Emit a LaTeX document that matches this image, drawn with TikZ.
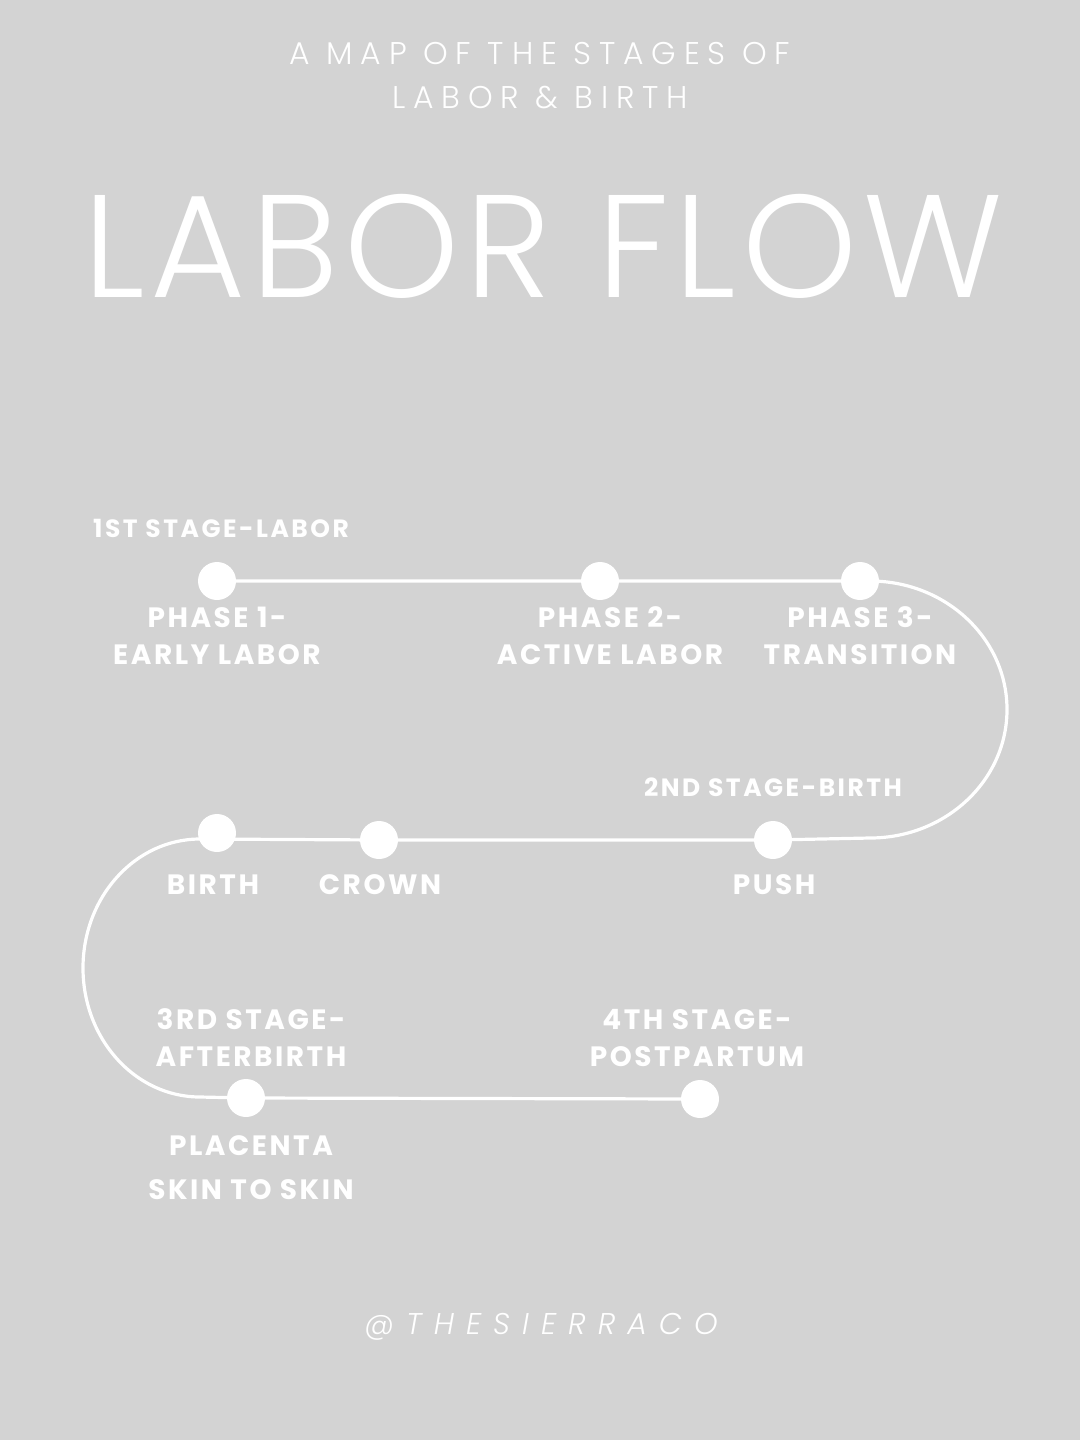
\documentclass[tikz,border=0pt]{standalone}
\usepackage{fontspec}
\usepackage{xcolor}
\usepackage{tikz}
\usetikzlibrary{positioning}
\setmainfont{Poppins}
\newfontfamily\lightfont{Poppins Light}
\newfontfamily\semifont{Poppins Bold}[LetterSpace=9]
\newfontfamily\stagefont{Poppins Bold}[LetterSpace=10]
\newfontfamily\tagfont{Poppins Light}[LetterSpace=40]
\definecolor{paper}{HTML}{D3D3D3}
\tikzset{
  track/.style={
    draw=white,
    line width=1.6pt,
  },
  dot/.style={
    circle,
    fill=white,
    minimum size=19pt,
    inner sep=0pt,
  },
  phase label/.style={
    text=white,
    align=center,
    font=\semifont\fontsize{14}{18.5}\selectfont,
  },
  stage label/.style={
    text=white,
    font=\stagefont\fontsize{12.5}{14}\selectfont,
  }
}

\begin{document}
\begin{tikzpicture}[x=0.5pt, y=0.5pt]
    \fill [paper] (0,0) rectangle (1080,-1440);
    \useasboundingbox (0,0) rectangle (1080,-1440);

    % heading
    \node [text=white, font=\lightfont\addfontfeature{LetterSpace=25}\fontsize{15.7}{22}\selectfont] (sub1) at (540,-54) {A MAP OF THE STAGES OF};
    \node [text=white, font=\lightfont\addfontfeature{LetterSpace=25}\fontsize{15.7}{22}\selectfont] (sub2) at (540,-98) {LABOR \& BIRTH};
    \node [text=white, font=\lightfont\addfontfeature{LetterSpace=4}\fontsize{73}{80}\selectfont] (title) at (543,-246) {LABOR FLOW};

    % stops on the track
    \coordinate (p1) at (217,-581);
    \coordinate (p2) at (600,-581);
    \coordinate (p3) at (860,-581);
    \coordinate (push) at (773,-840);
    \coordinate (crown) at (379,-840);
    \coordinate (birth) at (217,-833);
    \coordinate (placenta) at (246,-1098);
    \coordinate (post) at (700,-1099);
    \coordinate (r1) at (870,-581);
    \coordinate (l1) at (200,-839);

    \draw [track] (p1) -- (p3) -- (r1)
        arc [start angle=90, end angle=-90, x radius=68.5pt, y radius=64.25pt]
        -- (push) -- (crown) -- (l1)
        arc [start angle=90, end angle=270, x radius=58.5pt, y radius=64.5pt]
        -- (placenta) -- (post);
    \foreach \n in {p1,p2,p3,push,crown,birth,placenta,post}
        \node [dot] (\n dot) at (\n) {};

    % labels
    \node [stage label] (s1) at (221,-528) {1ST STAGE-LABOR};
    \node [phase label] (lp1) at (217,-636) {PHASE 1-\\EARLY LABOR};
    \node [phase label] (lp2) at (610,-636) {PHASE 2-\\ACTIVE LABOR};
    \node [phase label] (lp3) at (860,-636) {PHASE 3-\\TRANSITION};
    \node [stage label] (s2) at (773,-787) {2ND STAGE-BIRTH};
    \node [phase label] (lbirth) at (213,-885) {BIRTH};
    \node [phase label] (lcrown) at (380,-885) {CROWN};
    \node [phase label] (lpush) at (774,-885) {PUSH};
    \node [phase label] (s3) at (251,-1038) {3RD STAGE-\\AFTERBIRTH};
    \node [phase label] (s4) at (697,-1038) {4TH STAGE-\\POSTPARTUM};
    \node [phase label, font=\semifont\fontsize{14}{22}\selectfont] (lplacenta) at (251,-1168) {PLACENTA\\SKIN TO SKIN};

    % footer
    \node [text=white, font=\tagfont\itshape\fontsize{15}{18}\selectfont] (tag) at (541,-1327) {@THESIERRACO};
\end{tikzpicture}
\end{document}
